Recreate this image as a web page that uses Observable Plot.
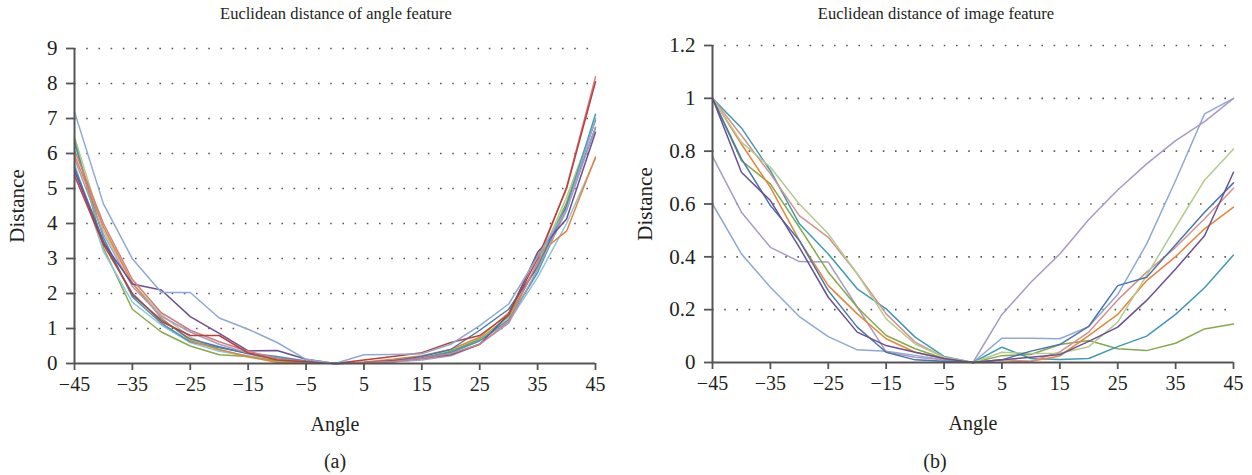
<!DOCTYPE html>
<html>
<head>
<meta charset="utf-8">
<script src="https://cdn.jsdelivr.net/npm/d3@7"></script>
<script src="https://cdn.jsdelivr.net/npm/@observablehq/plot@0.6"></script>
<style>
  html, body { margin: 0; padding: 0; background: #fff; }
  #wrap { position: relative; width: 1252px; height: 475px; font-family: "Liberation Serif", "DejaVu Serif", serif; color: #231f20; }
  .title { position: absolute; top: 4px; font-size: 16.5px; white-space: nowrap; transform: translateX(-50%); }
  .cap { position: absolute; top: 450px; font-size: 20px; white-space: nowrap; transform: translateX(-50%); }
  .panel { position: absolute; top: 30px; }
</style>
</head>
<body>
<div id="wrap">
  <div class="title" style="left:336px">Euclidean distance of angle feature</div>
  <div class="title" style="left:936px">Euclidean distance of image feature</div>
  <div class="panel" id="pa" style="left:0px"></div>
  <div class="panel" id="pb" style="left:626px"></div>
  <div class="cap" style="left:335px">(a)</div>
  <div class="cap" style="left:935px">(b)</div>
</div>
<script>
// ---------- data ----------
const angles = [-45, -40, -35, -30, -25, -20, -15, -10, -5, 0, 5, 10, 15, 20, 25, 30, 35, 40, 45];
const xTicks = [-45, -35, -25, -15, -5, 5, 15, 25, 35, 45];
const yTicksA = [0, 1, 2, 3, 4, 5, 6, 7, 8, 9];
const yTicksB = [0, 0.2, 0.4, 0.6, 0.8, 1, 1.2];

// (a) angle feature
const aLightBlue  = [7.19, 4.56, 2.99, 2.03, 2.03, 1.30, 0.98, 0.60, 0.12, 0, 0.25, 0.26, 0.28, 0.55, 1.08, 1.70, 3.05, 4.40, 7.00];
const aPurple     = [5.50, 3.45, 2.27, 2.10, 1.34, 0.86, 0.36, 0.37, 0.12, 0, 0.03, 0.08, 0.15, 0.25, 0.55, 1.40, 3.18, 4.13, 6.61];
const aDarkRed    = [5.37, 3.40, 2.00, 1.20, 0.80, 0.80, 0.30, 0.10, 0.05, 0, 0.10, 0.20, 0.31, 0.60, 0.80, 1.40, 3.00, 5.00, 8.05];
const aRose       = [6.10, 4.00, 2.40, 1.45, 0.95, 0.62, 0.35, 0.15, 0.05, 0, 0.03, 0.06, 0.15, 0.28, 0.55, 1.20, 2.90, 5.04, 8.19];
const aOrange     = [5.95, 3.90, 2.30, 1.30, 0.65, 0.40, 0.20, 0.03, 0.02, 0, 0.04, 0.12, 0.22, 0.40, 0.75, 1.45, 3.12, 3.78, 5.90];
const aLightTeal  = [5.70, 3.20, 1.75, 1.10, 0.60, 0.35, 0.22, 0.15, 0.08, 0, 0.02, 0.05, 0.12, 0.30, 0.65, 1.20, 2.46, 4.00, 5.86];
const aGreen      = [6.40, 3.30, 1.55, 0.90, 0.50, 0.25, 0.20, 0.08, 0.05, 0, 0.02, 0.06, 0.15, 0.35, 0.70, 1.35, 2.80, 4.60, 6.95];
const aTeal       = [6.30, 3.60, 1.90, 1.15, 0.62, 0.45, 0.30, 0.20, 0.07, 0, 0.02, 0.05, 0.16, 0.32, 0.65, 1.25, 2.60, 4.45, 7.12];
const aBlue       = [5.60, 3.50, 1.95, 1.25, 0.70, 0.48, 0.28, 0.15, 0.06, 0, 0.02, 0.08, 0.20, 0.40, 0.95, 1.55, 2.75, 4.50, 6.74];
const aLightGreen = [6.47, 3.80, 2.30, 1.40, 0.75, 0.38, 0.18, 0.06, 0.03, 0, 0.01, 0.04, 0.13, 0.32, 0.65, 1.30, 2.85, 4.75, 6.95];
const aLavender   = [5.85, 3.70, 2.20, 1.35, 0.90, 0.55, 0.30, 0.12, 0.04, 0, 0.02, 0.05, 0.10, 0.22, 0.55, 1.15, 2.70, 4.37, 6.75];

// (b) image feature
const bTeal       = [1, 0.888, 0.726, 0.525, 0.411, 0.279, 0.203, 0.096, 0.023, 0, 0.058, 0.015, 0.011, 0.015, 0.060, 0.100, 0.182, 0.283, 0.407];
const bSalmon     = [1, 0.859, 0.714, 0.556, 0.474, 0.336, 0.184, 0.077, 0.020, 0, 0.010, 0.005, 0.040, 0.115, 0.237, 0.342, 0.436, 0.544, 0.660];
const bLightGreen = [1, 0.834, 0.739, 0.600, 0.487, 0.336, 0.165, 0.070, 0.020, 0, 0.039, 0.034, 0.035, 0.060, 0.153, 0.330, 0.512, 0.690, 0.808];
const bGreen      = [1, 0.764, 0.676, 0.512, 0.342, 0.209, 0.102, 0.052, 0.015, 0, 0.026, 0.030, 0.068, 0.083, 0.052, 0.045, 0.073, 0.127, 0.146];
const bOrange     = [1, 0.827, 0.663, 0.462, 0.291, 0.184, 0.090, 0.039, 0.015, 0, 0.000, 0.005, 0.025, 0.102, 0.182, 0.310, 0.401, 0.506, 0.588];
const bBlue       = [1, 0.771, 0.594, 0.462, 0.272, 0.134, 0.039, 0.010, 0.005, 0, 0.010, 0.043, 0.068, 0.137, 0.291, 0.323, 0.446, 0.569, 0.680];
const bPurple     = [1, 0.720, 0.613, 0.436, 0.247, 0.115, 0.064, 0.039, 0.015, 0, 0.010, 0.020, 0.030, 0.080, 0.134, 0.235, 0.354, 0.480, 0.720];
const bLavender   = [0.78, 0.569, 0.436, 0.382, 0.380, 0.210, 0.040, 0.020, 0.010, 0, 0.182, 0.304, 0.411, 0.541, 0.653, 0.752, 0.840, 0.912, 1.0];
const bLightBlue  = [0.60, 0.411, 0.285, 0.174, 0.098, 0.048, 0.043, 0.027, 0.010, 0, 0.092, 0.092, 0.090, 0.136, 0.257, 0.449, 0.689, 0.941, 1.0];

const seriesA = [
  ["s-lightgreen", aLightGreen], ["s-green", aGreen], ["s-lightteal", aLightTeal], ["s-teal", aTeal],
  ["s-orange", aOrange], ["s-blue", aBlue], ["s-lavender", aLavender], ["s-purple", aPurple],
  ["s-rose", aRose], ["s-darkred", aDarkRed], ["s-lightblue", aLightBlue]
];
const seriesB = [
  ["s-lightblue", bLightBlue], ["s-lavender", bLavender], ["s-green", bGreen], ["s-teal", bTeal],
  ["s-orange", bOrange], ["s-salmon", bSalmon], ["s-lightgreen", bLightGreen], ["s-blue", bBlue], ["s-purple", bPurple]
];

// ---------- styling ----------
const palette = {
  "s-blue": "#4a76ad", "s-darkred": "#b8403d", "s-rose": "#cf7f7d", "s-salmon": "#d4928f", "s-green": "#87a94b",
  "s-lightgreen": "#b3cb8e", "s-purple": "#6b5091", "s-lavender": "#a99bc2", "s-teal": "#3f9ab3",
  "s-lightteal": "#8ec5d7", "s-orange": "#e5853a", "s-lightblue": "#8fa9d3"
};
const axisColor = "#555555";
const fmtX = d => d < 0 ? "\u2212" + Math.abs(d) : String(d);
const fmtY = d => String(+d.toFixed(1));

function toRows(series) {
  const rows = [];
  for (const [name, vals] of series) vals.forEach((v, i) => rows.push({series: name, angle: angles[i], value: v}));
  return rows;
}

function chart(series, yDomain, yTicks, m, yLabelOffset) {
  const rows = toRows(series);
  const names = series.map(s => s[0]);
  return Plot.plot({
    width: 626, height: 400,
    marginLeft: m[0], marginRight: m[1], marginTop: m[2], marginBottom: m[3],
    style: {fontFamily: "'Liberation Serif', 'DejaVu Serif', serif", fontSize: "20px", color: "#231f20", background: "transparent", overflow: "visible"},
    x: {domain: [-45, 45]},
    y: {domain: yDomain},
    color: {type: "ordinal", domain: names, range: names.map(n => palette[n])},
    marks: [
      Plot.ruleY(yTicks.filter(t => t > 0), {stroke: "#5a5a5a", strokeWidth: 1.6, strokeDasharray: "1.6,10.6"}),
      Plot.lineY(rows, {x: "angle", y: "value", z: "series", stroke: "series", strokeWidth: 1.5}),
      Plot.axisX({ticks: xTicks, tickFormat: fmtX, tickSize: 7, tickPadding: 6, stroke: axisColor, strokeWidth: 1.8,
        label: "Angle", labelAnchor: "center", labelArrow: "none", labelOffset: 67, fontSize: 20}),
      Plot.axisY({ticks: yTicks, tickFormat: fmtY, tickSize: 8, tickPadding: 9, stroke: axisColor, strokeWidth: 1.8,
        label: "Distance", labelAnchor: "center", labelArrow: "none", labelOffset: yLabelOffset, fontSize: 21}),
      Plot.ruleX([-45], {stroke: axisColor, strokeWidth: 2}),
      Plot.ruleY([yDomain[0]], {stroke: axisColor, strokeWidth: 2})
    ]
  });
}

document.getElementById("pa").append(chart(seriesA, [0, 9], yTicksA, [74, 31, 18, 67], 65));
document.getElementById("pb").append(chart(seriesB, [0, 1.2], yTicksB, [86, 19, 15, 68], 75));
</script>
</body>
</html>
